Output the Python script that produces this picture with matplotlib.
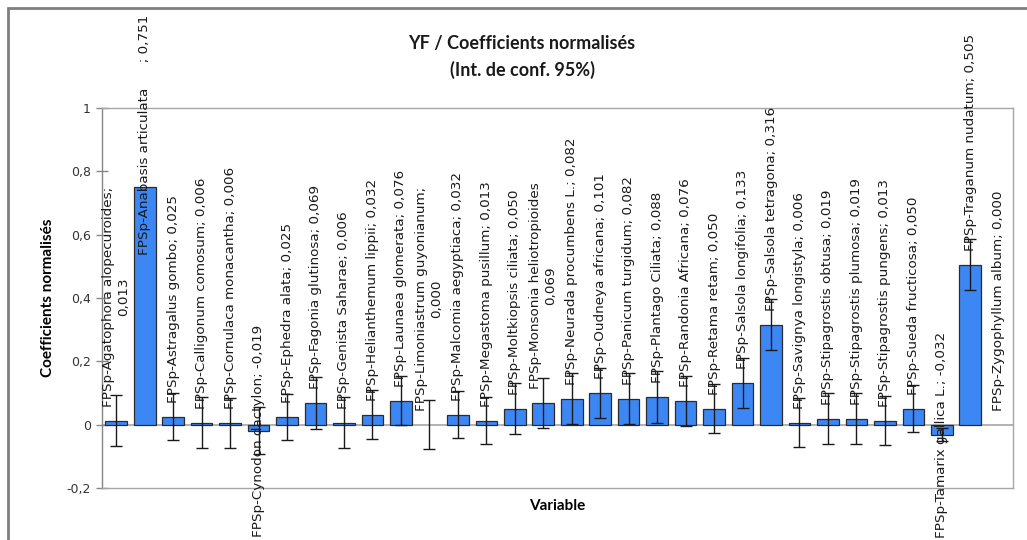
import numpy as np
import matplotlib
matplotlib.use("Agg")
import matplotlib.pyplot as plt
from matplotlib.patches import Rectangle

# donnees
names = ["Agatophora alopecuroides", "Anabasis articulata", "Astragalus gombo",
         "Calligonum comosum", "Cornulaca monacantha", "Cynodon dactylon",
         "Ephedra alata", "Fagonia glutinosa", "Genista Saharae",
         "Helianthemum lippii", "Launaea glomerata", "Limoniastrum guyonianum",
         "Malcomia aegyptiaca", "Megastoma pusillum", "Moltkiopsis ciliata",
         "Monsonia heliotropioides", "Neurada procumbens L.", "Oudneya africana",
         "Panicum turgidum", "Plantago Ciliata", "Randonia Africana",
         "Retama retam", "Salsola longifolia", "Salsola tetragona",
         "Savignya longistyla", "Stipagrostis obtusa", "Stipagrostis plumosa",
         "Stipagrostis pungens", "Sueda fructicosa", "Tamarix gallica L.",
         "Traganum nudatum", "Zygophyllum album"]
values = [0.013, 0.751, 0.025, 0.006, 0.006, -0.019, 0.025, 0.069, 0.006, 0.032,
          0.076, 0.000, 0.032, 0.013, 0.050, 0.069, 0.082, 0.101, 0.082, 0.088,
          0.076, 0.050, 0.133, 0.316, 0.006, 0.019, 0.019, 0.013, 0.050, -0.032,
          0.505, 0.000]
errors = [0.081, 0.0, 0.075, 0.080, 0.079, 0.075, 0.072, 0.082, 0.080, 0.078,
          0.077, 0.078, 0.074, 0.075, 0.080, 0.078, 0.080, 0.079, 0.080, 0.083,
          0.079, 0.077, 0.079, 0.080, 0.077, 0.080, 0.080, 0.076, 0.074, 0.02,
          0.081, 0.0]
# separateurs particuliers (etiquettes coupees par Excel)
seps = {0: ";\n", 1: "      ; ", 11: ";\n", 15: "\n"}

yticks = [-0.2, 0, 0.2, 0.4, 0.6, 0.8, 1]
ytick_labels = ["-0,2", "0", "0,2", "0,4", "0,6", "0,8", "1"]

plt.rcParams['font.family'] = ['Lato', 'DejaVu Sans']
lab_font = 'DejaVu Sans'
lab_size = 9.7

W, H = 1027, 540
fig = plt.figure(figsize=(W / 100, H / 100), dpi=100)
ax = fig.add_axes([102 / W, 1 - 488 / H, (1013 - 102) / W, (488 - 108) / H])

x = np.arange(len(values))
vals = np.array(values)
errs = np.array(errors)
ax.axhline(0, color='#a6a6a6', lw=1.2, zorder=1)
edges = ['#2b2b2b' if v != 0 else 'none' for v in values]
ax.bar(x, vals, width=0.76, color='#3d87f5', edgecolor=edges, lw=0.9, zorder=2)
m = errs > 0
ax.errorbar(x[m], vals[m], yerr=errs[m], fmt='none', ecolor='#1a1a1a', elinewidth=1,
            capsize=4, capthick=1, zorder=4)

ax.set_xlim(-0.5, len(values) - 0.5)
ax.set_ylim(-0.2, 1)
ax.set_yticks(yticks)
ax.set_yticklabels(ytick_labels, fontsize=9, color='#333333', family=lab_font)
ax.set_xticks([])
ax.tick_params(axis='y', direction='inout', length=8, width=1, color='#868686', pad=4)
for s in ax.spines.values():
    s.set_color('#a6a6a6')
    s.set_linewidth(1)
ax.spines['left'].set_color('#868686')

ax.set_ylabel("Coefficients normalisés", fontsize=11, fontweight='bold', labelpad=8)
ax.set_xlabel("Variable", fontsize=11, fontweight='bold', labelpad=8)

fig.text(522 / W, 1 - 57 / H, "YF / Coefficients normalisés\n(Int. de conf. 95%)",
         ha='center', va='center', fontsize=13, fontweight='bold', linespacing=1.6,
         color='#1a1a1a')

# etiquettes de donnees
texts = []
for i, (n, v) in enumerate(zip(names, values)):
    lab = "FPSp-" + n + seps.get(i, "; ") + ("%.3f" % v).replace('.', ',')
    if v >= 0:
        t = ax.annotate(lab, (x[i], v), xytext=(0, 10), textcoords='offset points',
                        rotation=90, ha='center', va='bottom', fontsize=lab_size,
                        family=lab_font, multialignment='center', color='#1a1a1a',
                        zorder=3, annotation_clip=False)
    else:
        t = ax.annotate(lab, (x[i], v), xytext=(0, 0), textcoords='offset points',
                        rotation=90, ha='center', va='center', fontsize=lab_size,
                        family=lab_font, color='#1a1a1a', zorder=3,
                        annotation_clip=False)
    texts.append(t)

# comme Excel : une etiquette qui sort du cadre est ramenee dedans
fig.canvas.draw()
r = fig.canvas.get_renderer()
for t in texts:
    bb = t.get_window_extent(r)
    lim = H - 15
    if bb.y1 > lim:
        dx, dy = t.xyann
        t.xyann = (dx, dy - (bb.y1 - lim) * 72 / 100)

# cadre du graphique
fig.patches.append(Rectangle((8 / W, -0.1), 1.2, 1.1 - 8 / H, transform=fig.transFigure,
                             fill=False, edgecolor='#7f7f7f', lw=2, clip_on=False))

fig.savefig("out.png", dpi=100)
